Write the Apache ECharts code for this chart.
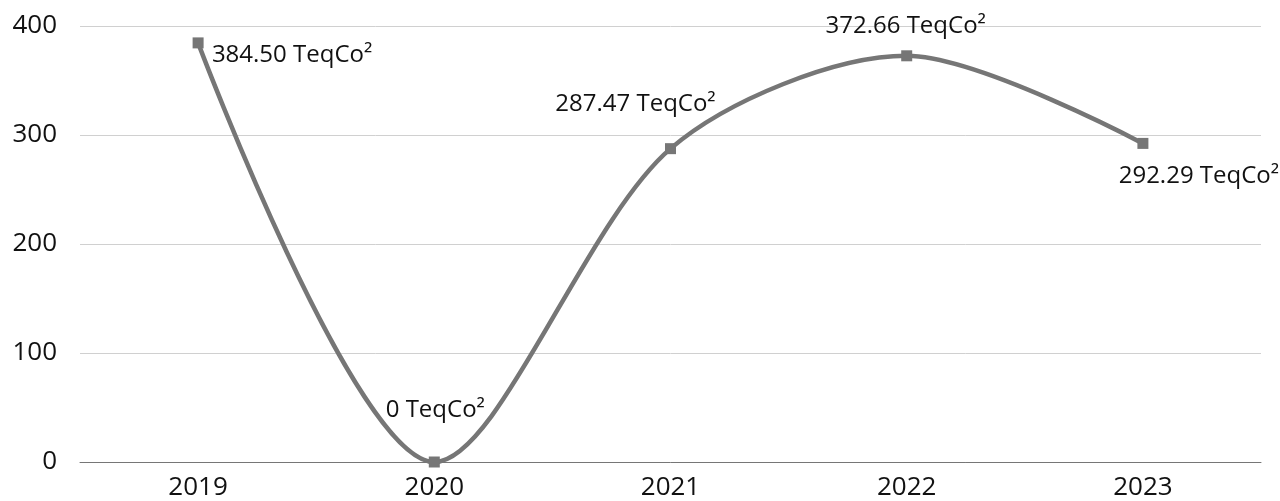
<!DOCTYPE html>
<html><head><meta charset="utf-8">
<script src="https://cdn.jsdelivr.net/npm/echarts@6/dist/echarts.min.js"></script>
<style>html,body{margin:0;padding:0;background:#fff}#c{width:1280px;height:501px}</style>
</head><body><div id="c"></div>
<script>
var categories = ['2019','2020','2021','2022','2023'];
var values = [384.50, 0, 287.47, 372.66, 292.29];
var labels = ['384.50 TeqCo²','0 TeqCo²','287.47 TeqCo²','372.66 TeqCo²','292.29 TeqCo²'];
var yTicks = [0,100,200,300,400];

var labelOffsets = [[94,12],[1,-52],[-35,-45],[-1,-30],[56,33]];
var chart = echarts.init(document.getElementById('c'));
chart.setOption({
  animation:false,
  textStyle:{fontFamily:'Open Sans'},
  grid:{left:80,right:19,top:26,bottom:39},
  xAxis:{type:'category',data:categories,boundaryGap:true,
    axisLine:{lineStyle:{color:'#767676',width:1}},axisTick:{show:false},
    axisLabel:{color:'#111',fontSize:26,fontFamily:'Open Sans',margin:13}},
  yAxis:{type:'value',min:0,max:400,interval:100,
    axisLine:{show:false},axisTick:{show:false},
    splitLine:{lineStyle:{color:'#d0d0d0',width:1}},
    axisLabel:{color:'#111',fontSize:26,fontFamily:'Open Sans',margin:23,
      formatter:function(v){return yTicks.indexOf(v)>=0?String(v):'';}}},
  series:[{type:'line',smooth:0.3,
    data:values.map(function(v,i){return {value:v,label:{show:true,position:'inside',align:'center',verticalAlign:'middle',offset:labelOffsets[i],formatter:labels[i],color:'#111',fontSize:24,fontFamily:'Open Sans'}};}),
    symbol:'rect',symbolSize:11,
    lineStyle:{color:'#767676',width:4.5},
    itemStyle:{color:'#767676'}}]
});
</script></body></html>
